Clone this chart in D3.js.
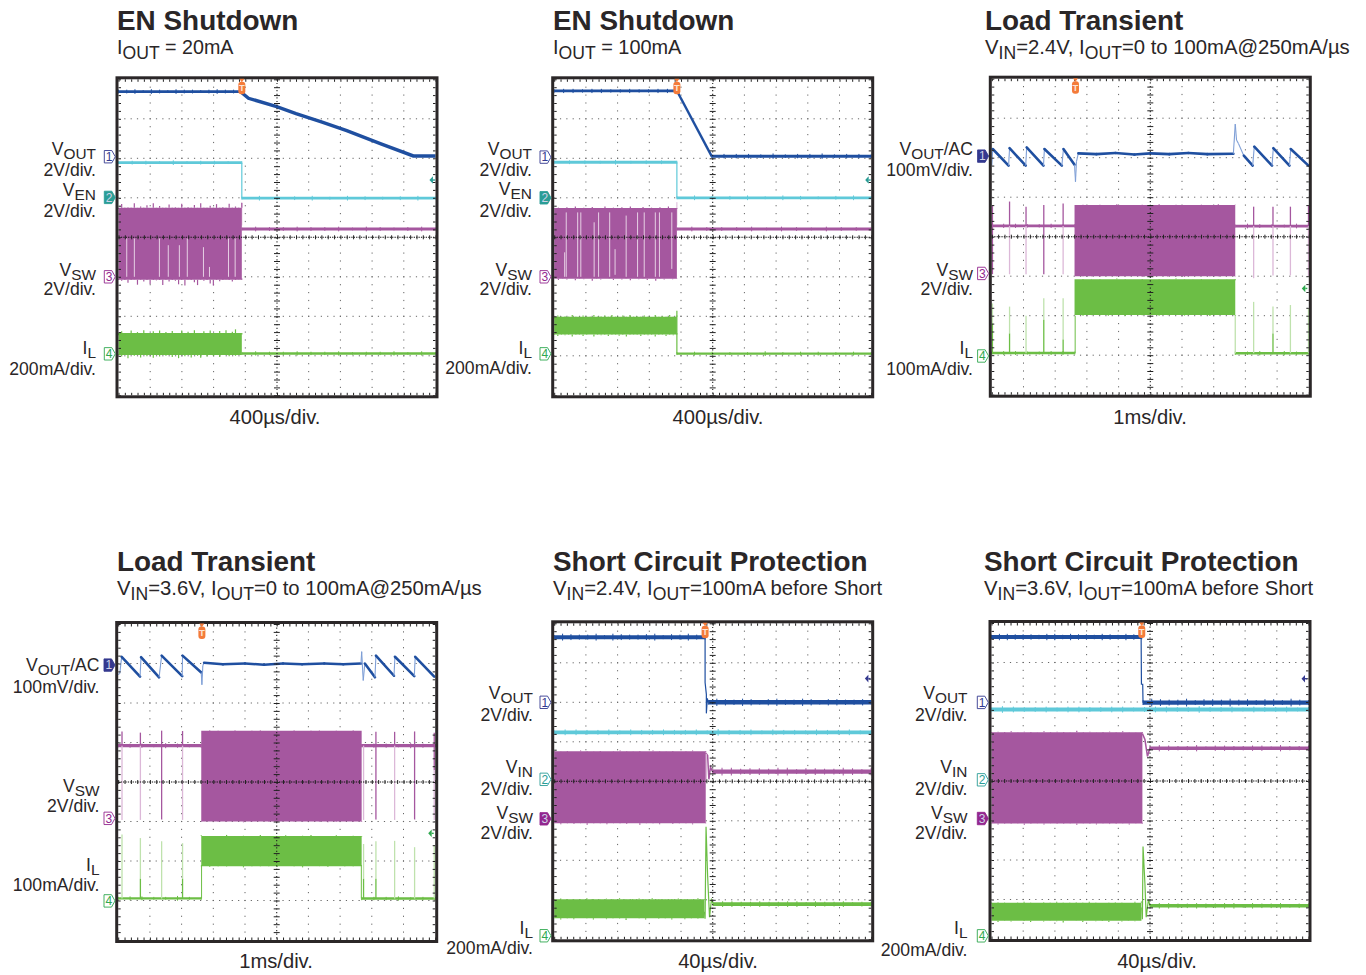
<!DOCTYPE html>
<html>
<head>
<meta charset="utf-8">
<script src="https://cdn.jsdelivr.net/npm/d3@7"></script>
<style>
  html, body { margin: 0; padding: 0; background: #fff; }
  svg { display: block; }
  text { font-family: "Liberation Sans", Arial, sans-serif; fill: #2a2627; }
</style>
</head>
<body>
<div class="box"></div>
<script>
// Text. "_" toggles subscript
const panelTitles = ['EN Shutdown', 'EN Shutdown', 'Load Transient', 'Load Transient', 'Short Circuit Protection', 'Short Circuit Protection'];
const panelSubtitles = [
  'I_OUT_ = 20mA',
  'I_OUT_ = 100mA',
  'V_IN_=2.4V, I_OUT_=0 to 100mA@250mA/µs',
  'V_IN_=3.6V, I_OUT_=0 to 100mA@250mA/µs',
  'V_IN_=2.4V, I_OUT_=100mA before Short',
  'V_IN_=3.6V, I_OUT_=100mA before Short'
];
const timeLabels = ['400µs/div.', '400µs/div.', '1ms/div.', '1ms/div.', '40µs/div.', '40µs/div.'];
const channelLabels = [
  ['V_OUT', '2V/div.', 'V_EN', '2V/div.', 'V_SW', '2V/div.', 'I_L', '200mA/div.'],
  ['V_OUT', '2V/div.', 'V_EN', '2V/div.', 'V_SW', '2V/div.', 'I_L', '200mA/div.'],
  ['V_OUT_/AC', '100mV/div.', 'V_SW', '2V/div.', 'I_L', '100mA/div.'],
  ['V_OUT_/AC', '100mV/div.', 'V_SW', '2V/div.', 'I_L', '100mA/div.'],
  ['V_OUT', '2V/div.', 'V_IN', '2V/div.', 'V_SW', '2V/div.', 'I_L', '200mA/div.'],
  ['V_OUT', '2V/div.', 'V_IN', '2V/div.', 'V_SW', '2V/div.', 'I_L', '200mA/div.']
];

// Values: time in divisions (0..10), level in divisions from centre (-4..4)
// Panel 1
const p1Trigger = 3.89;
const p1Vout = [3.68, 3.70, 3.67, 3.69, 3.71, 3.68, 3.69, 3.67, 3.70, 3.68, 3.69, 3.70, 3.67, 3.68, 3.70, 3.69];
const p1VoutFall = [[3.89, 3.66], [4.1, 3.52], [4.99, 3.31], [5.6, 3.13], [6.4, 2.92], [7.2, 2.70], [8.3, 2.36], [9.3, 2.06], [10, 2.06]];
const p1VenHigh = [1.89, 1.90, 1.88, 1.89, 1.91, 1.89, 1.88, 1.90, 1.89, 1.89];
const p1VenLow = [0.99, 1.01, 0.98, 1.00, 0.97, 0.99, 1.01, 0.98, 0.99, 1.00, 0.97, 0.99];
const p1SwTop = [0.72, 0.84, 0.70, 0.76, 0.73, 0.86, 0.71, 0.78, 0.72, 0.81, 0.75, 0.86, 0.71, 0.79, 0.73, 0.70, 0.83, 0.72, 0.76, 0.71, 0.85, 0.73, 0.77, 0.71, 0.82, 0.72, 0.86, 0.74, 0.70, 0.80, 0.73, 0.84, 0.71, 0.77, 0.72, 0.85, 0.74, 0.78, 0.72, 0.87];
const p1SwBot = [-1.05, -1.10, -1.04, -1.15, -1.05, -1.08, -1.20, -1.06, -1.12, -1.04, -1.18, -1.05, -1.09, -1.04, -1.21, -1.06, -1.12, -1.05, -1.10, -1.19, -1.05, -1.22, -1.07, -1.05, -1.14, -1.21, -1.06, -1.10, -1.05, -1.17, -1.22, -1.06, -1.11, -1.04, -1.08, -1.05, -1.12, -1.05, -1.07, -1.04];
const p1SwAfter = [0.21, 0.23, 0.20, 0.22, 0.19, 0.22, 0.20, 0.23, 0.21, 0.19, 0.22, 0.21, 0.20, 0.23, 0.21];
const p1Streak = [0.26, 0.5, 1.29, 1.57, 1.92, 2.17, 2.68, 2.87, 3.47, 3.68];
const p1StreakTop = [-0.03, -0.03, -0.03, -0.2, -0.2, -0.03, -0.25, -0.75, -0.03, -0.03];
const p1IlTop = [-2.48, -2.38, -2.50, -2.42, -2.36, -2.48, -2.40, -2.46, -2.35, -2.50, -2.44, -2.38, -2.47, -2.36, -2.45, -2.40, -2.49, -2.37, -2.43, -2.48, -2.36, -2.44, -2.39, -2.47, -2.35, -2.43, -2.49, -2.38, -2.45, -2.36, -2.42, -2.47, -2.37, -2.44, -2.35, -2.45, -2.39, -2.33, -2.42, -2.46];
const p1IlBot = [-2.96, -3.02, -2.98, -3.06, -2.97, -3.00, -2.96, -3.04, -2.98, -3.01, -2.96, -3.05, -2.97, -3.02, -2.98, -3.00, -2.96, -3.03, -2.98, -3.06, -2.97, -3.01, -2.96, -3.04, -2.97, -3.00, -3.05, -2.97, -3.02, -2.96, -3.00, -2.97, -3.03, -2.98, -2.96, -3.01, -2.97, -3.00, -2.96, -2.98];
const p1IlAfter = [-2.94, -2.92, -2.95, -2.93, -2.96, -2.93, -2.95, -2.92, -2.94, -2.95, -2.93, -2.96, -2.94, -2.92, -2.94];

// Panel 2
const p2Trigger = 3.87;
const p2Vout = [3.71, 3.69, 3.72, 3.70, 3.72, 3.69, 3.71, 3.70, 3.72, 3.70, 3.71, 3.69, 3.72, 3.70];
const p2VoutFall = [[3.87, 3.71], [4.97, 2.05]];
const p2VoutLow = [2.05, 2.04, 2.07, 2.04, 2.06, 2.08, 2.05, 2.07, 2.04, 2.08, 2.05, 2.07, 2.04, 2.06];
const p2VenHigh = [1.90, 1.91, 1.89, 1.90, 1.92, 1.90, 1.89, 1.91, 1.90];
const p2VenLow = [1.00, 1.02, 0.99, 1.01, 0.98, 1.00, 1.02, 0.99, 1.00, 1.01, 0.98, 1.00];
const p2SwTop = [0.73, 0.75, 0.72, 0.76, 0.73, 0.78, 0.72, 0.75, 0.73, 0.77, 0.72, 0.74, 0.78, 0.73, 0.75, 0.72, 0.76, 0.73, 0.78, 0.72, 0.74, 0.77, 0.73, 0.75, 0.72, 0.76, 0.73, 0.78, 0.74, 0.72];
const p2SwBot = [-1.05, -1.08, -1.04, -1.07, -1.05, -1.09, -1.04, -1.06, -1.05, -1.10, -1.04, -1.07, -1.05, -1.04, -1.08, -1.05, -1.07, -1.04, -1.09, -1.05, -1.06, -1.04, -1.08, -1.05, -1.10, -1.04, -1.07, -1.05, -1.06, -1.04];
const p2SwAfter = [0.21, 0.23, 0.20, 0.22, 0.20, 0.23, 0.21, 0.19, 0.22, 0.21, 0.23, 0.20, 0.22, 0.21];
const p2Streak = [0.33, 0.38, 0.74, 0.84, 1.26, 1.40, 1.75, 1.92, 2.27, 2.63, 2.84, 3.19, 3.32, 3.71];
const p2StreakTop = [-0.38, 0.63, 0.63, 0.63, 0.38, 0.63, 0.63, -0.3, 0.55, 0.63, 0.63, 0.63, 0.63, 0.63];
const p2StreakBot = [-1, -1, -1, -1, -1, -1, -1, -0.95, -1, -1, -1, -1, -1, -0.8];
const p2IlTop = [-2.06, -1.98, -2.08, -2.00, -2.05, -1.97, -2.09, -2.01, -1.98, -2.07, -2.02, -1.97, -2.08, -2.00, -1.98, -2.05, -1.97, -2.07, -2.01, -1.98, -2.06, -1.97, -2.08, -2.00, -2.04, -1.98, -2.07, -2.01, -1.97, -2.05, -1.99, -2.07, -1.97, -2.03, -1.98];
const p2IlBot = [-2.44, -2.50, -2.42, -2.48, -2.45, -2.51, -2.43, -2.47, -2.50, -2.42, -2.46, -2.51, -2.44, -2.48, -2.42, -2.50, -2.45, -2.43, -2.49, -2.44, -2.51, -2.42, -2.47, -2.45, -2.50, -2.43, -2.48, -2.44, -2.51, -2.42, -2.47, -2.50, -2.44, -2.48, -2.43];
const p2IlAfter = [-2.95, -2.93, -2.96, -2.94, -2.95, -2.92, -2.95, -2.93, -2.96, -2.94, -2.93, -2.95];

// Panel 3
const p3Trigger = 2.64;
const p3Vout = [[0, 1.8], [0.03, 2.22], [0.53, 1.80], [0.56, 2.24], [1.07, 1.80], [1.10, 2.26], [1.63, 1.80], [1.66, 2.22], [2.21, 1.80], [2.26, 2.22], [2.61, 1.82], [2.64, 1.39], [2.67, 1.9], [2.73, 2.11], [3.3, 2.09], [3.9, 2.12], [4.5, 2.08], [5, 2.11], [5.6, 2.09], [6.2, 2.12], [6.8, 2.09], [7.62, 2.10], [7.68, 2.85], [7.72, 2.45], [7.78, 2.36], [7.95, 2.05], [8.23, 1.80], [8.28, 2.28], [8.84, 1.80], [8.88, 2.24], [9.39, 1.80], [9.43, 2.22], [9.99, 1.80]];
const p3SwLeft = [0.28, 0.26, 0.29, 0.27, 0.28, 0.26, 0.28, 0.27];
const p3SwRight = [0.27, 0.29, 0.26, 0.28, 0.27, 0.25, 0.28];
const p3SwTop = [0.80, 0.81, 0.79, 0.81, 0.80, 0.82, 0.80, 0.79, 0.81, 0.80, 0.82, 0.80, 0.81, 0.79, 0.80, 0.81, 0.80, 0.82, 0.79, 0.81];
const p3SwBot = [-1.0, -1.01, -0.99, -1.02, -1.0, -0.99, -1.01, -1.0, -1.02, -0.99, -1.0, -1.01, -0.99, -1.02, -1.0, -1.0, -1.01, -0.99, -1.0, -1.01];
const p3Pulse = [0.02, 0.56, 1.08, 1.64, 2.25, 8.26, 8.87, 9.42, 9.99];
const p3SwPulseTop = [0.78, 0.89, 0.76, 0.80, 0.84, 0.76, 0.76, 0.76, 0.80];
const p3SwPulseMid = [-0.95, 0.27, 0.27, -0.95, 0.27, 0.27, 0.27, 0.27, 0.27];
const p3SwPulseBot = [-0.95, -0.95, -0.95, -0.95, -0.95, -1.05, -0.98, -0.98, -1.0];
const p3IlTop = [-1.08, -1.10, -1.07, -1.09, -1.08, -1.06, -1.09, -1.08, -1.10, -1.07, -1.09, -1.08, -1.06, -1.09, -1.07, -1.10, -1.08, -1.09, -1.07, -1.10];
const p3IlBot = [-1.98, -2.00, -1.97, -1.99, -2.0, -1.98, -2.01, -1.97, -1.99, -1.98, -2.0, -1.98, -1.97, -2.0, -1.98, -1.99, -2.01, -1.98, -1.97, -2.0];
const p3IlLeft = [-2.95, -2.93, -2.96, -2.94, -2.95, -2.93, -2.96, -2.94];
const p3IlRight = [-2.96, -2.94, -2.97, -2.95, -2.93, -2.96, -2.95];
const p3IlPulseTop = [-1.69, -1.77, -2.0, -1.56, -1.56, -1.65, -1.77, -1.73, -1.81];
const p3IlPulseMid = [-2.2, -2.45, -2.95, -2.1, -2.6, -2.95, -2.45, -2.95, -2.95];

// Panel 4
const p4Trigger = 2.64;
const p4Vout = [[0, 2.72], [0.05, 2.75], [0.11, 3.17], [0.69, 2.67], [0.72, 3.16], [1.29, 2.65], [1.37, 3.20], [2.02, 2.68], [2.03, 3.20], [2.62, 2.77], [2.64, 2.46], [2.67, 2.95], [2.71, 3.02], [3.3, 2.98], [4, 3.0], [4.6, 2.97], [5.2, 3.0], [5.8, 2.98], [6.5, 3.0], [7.1, 2.98], [7.66, 3.0], [7.68, 3.3], [7.73, 2.57], [7.78, 3.0], [8.1, 2.65], [8.13, 3.2], [8.70, 2.69], [8.73, 3.17], [9.34, 2.68], [9.37, 3.17], [9.97, 2.67]];
const p4SwLeft = [0.92, 0.93, 0.91, 0.92, 0.94, 0.91, 0.92, 0.93];
const p4SwRight = [0.92, 0.91, 0.93, 0.92, 0.94, 0.91, 0.92];
const p4SwTop = [1.30, 1.31, 1.29, 1.30, 1.31, 1.30, 1.29, 1.31, 1.30, 1.29, 1.30, 1.31, 1.30, 1.29, 1.31, 1.30, 1.29, 1.30, 1.31, 1.30];
const p4SwBot = [-0.99, -1.0, -1.01, -0.98, -1.0, -1.02, -0.99, -1.0, -1.01, -0.98, -1.0, -0.99, -1.01, -1.0, -0.98, -1.02, -0.99, -1.0, -1.01, -0.99];
const p4Pulse = [0.12, 0.70, 1.37, 2.03, 7.74, 8.13, 8.72, 9.35, 9.97];
const p4SwPulseTop = [1.28, 1.25, 1.30, 1.29, 0.95, 1.27, 1.27, 1.28, 1.25];
const p4SwPulseMid = [0.92, 0.92, -0.95, 0.92, 0.92, -0.95, 0.92, -0.95, 0.3];
const p4IlTop = [-1.35, -1.38, -1.37, -1.34, -1.39, -1.36, -1.38, -1.34, -1.37, -1.39, -1.35, -1.38, -1.36, -1.34, -1.38, -1.37, -1.35, -1.39, -1.36, -1.38];
const p4IlBot = [-2.12, -2.15, -2.11, -2.14, -2.13, -2.16, -2.12, -2.14, -2.11, -2.15, -2.13, -2.12, -2.16, -2.13, -2.11, -2.15, -2.13, -2.12, -2.14, -2.13];
const p4IlLeft = [-2.95, -2.93, -2.96, -2.94, -2.95, -2.92, -2.95, -2.94];
const p4IlRight = [-2.96, -2.94, -2.96, -2.93, -2.95, -2.96, -2.94];
const p4IlPulseTop = [-1.33, -1.42, -1.50, -1.55, -1.57, -1.50, -1.49, -1.65, -1.60];
const p4IlPulseMid = [-2.95, -2.45, -2.95, -2.45, -2.45, -2.45, -2.95, -2.95, -2.95];

// Panel 5
const p5Trigger = 4.76;
const p5Vout = [3.65, 3.68, 3.63, 3.66, 3.64, 3.68, 3.65, 3.62, 3.67, 3.64, 3.66, 3.63, 3.68, 3.65, 3.63, 3.66, 3.68, 3.64, 3.66];
const p5VoutFall = [[4.76, 3.65], [4.76, 2.5], [4.80, 2.2], [4.80, 1.72], [4.83, 2.1], [4.86, 2.0]];
const p5VoutLow = [2.0, 2.03, 1.98, 2.01, 1.97, 2.02, 2.0, 1.98, 2.03, 1.99, 2.01, 1.97, 2.02, 2.0, 1.98, 2.02, 1.99, 2.01, 1.98, 2.0];
const p5Ven = [1.24, 1.26, 1.22, 1.25, 1.23, 1.26, 1.24, 1.22, 1.25, 1.23, 1.26, 1.23, 1.25, 1.22, 1.24, 1.27, 1.23, 1.25, 1.22, 1.24, 1.26, 1.23, 1.25, 1.24, 1.22, 1.25, 1.23, 1.26, 1.24, 1.23];
const p5SwTop = [0.75, 0.77, 0.74, 0.76, 0.78, 0.75, 0.77, 0.74, 0.76, 0.75, 0.78, 0.75, 0.77, 0.74, 0.76, 0.78, 0.75, 0.77, 0.74, 0.76, 0.75, 0.78, 0.76, 0.74];
const p5SwBot = [-1.06, -1.09, -1.05, -1.08, -1.06, -1.10, -1.05, -1.07, -1.09, -1.06, -1.05, -1.08, -1.06, -1.10, -1.07, -1.05, -1.09, -1.06, -1.08, -1.05, -1.07, -1.09, -1.06, -1.05];
const p5SwDrop = [[4.78, 0.72], [4.84, 0.65], [4.88, 0.05], [4.93, 0.36], [5.0, 0.24]];
const p5SwAfter = [0.24, 0.28, 0.21, 0.26, 0.22, 0.27, 0.23, 0.28, 0.21, 0.25, 0.27, 0.22, 0.26, 0.23, 0.28, 0.22, 0.25, 0.21];
const p5IlTop = [-3.0, -2.97, -3.01, -2.98, -3.0, -2.96, -3.01, -2.98, -2.97, -3.0, -2.96, -2.99, -3.01, -2.97, -2.99, -2.96, -3.0, -2.98, -3.01, -2.97, -3.0, -2.98, -2.96, -3.0];
const p5IlBot = [-3.47, -3.50, -3.46, -3.49, -3.47, -3.45, -3.50, -3.47, -3.49, -3.46, -3.48, -3.51, -3.47, -3.46, -3.50, -3.47, -3.48, -3.45, -3.50, -3.47, -3.49, -3.46, -3.48, -3.47];
const p5IlSpike = [[4.74, -3.3], [4.76, -3.48], [4.79, -1.15], [4.84, -2.4], [4.9, -3.44], [4.96, -3.0], [5.02, -3.11]];
const p5IlAfter = [-3.11, -3.09, -3.13, -3.10, -3.12, -3.09, -3.12, -3.10, -3.13, -3.09, -3.11, -3.13, -3.10, -3.12, -3.09, -3.11, -3.12, -3.10];

// Panel 6
const p6Trigger = 4.74;
const p6Vout = [3.64, 3.67, 3.62, 3.66, 3.63, 3.66, 3.64, 3.67, 3.62, 3.65, 3.67, 3.63, 3.66, 3.64, 3.62, 3.66, 3.64, 3.67, 3.63, 3.65];
const p6VoutFall = [[4.72, 3.64], [4.73, 2.45], [4.77, 2.45], [4.78, 1.98]];
const p6VoutLow = [1.98, 2.02, 1.96, 2.0, 1.97, 2.02, 1.98, 2.01, 1.96, 2.0, 2.02, 1.97, 2.01, 1.98, 1.96, 2.01, 1.98, 2.02, 1.97, 1.99];
const p6Ven = [1.81, 1.84, 1.79, 1.82, 1.80, 1.83, 1.81, 1.79, 1.83, 1.80, 1.82, 1.79, 1.83, 1.81, 1.80, 1.83, 1.79, 1.82, 1.80, 1.78, 1.82, 1.80, 1.83, 1.81, 1.79, 1.82, 1.80, 1.83, 1.81, 1.80];
const p6SwTop = [1.22, 1.25, 1.21, 1.26, 1.23, 1.25, 1.21, 1.24, 1.26, 1.22, 1.25, 1.21, 1.24, 1.27, 1.22, 1.25, 1.23, 1.21, 1.25, 1.22, 1.26, 1.23, 1.24, 1.21];
const p6SwBot = [-1.07, -1.10, -1.06, -1.09, -1.07, -1.11, -1.06, -1.08, -1.10, -1.07, -1.06, -1.09, -1.07, -1.11, -1.08, -1.06, -1.10, -1.07, -1.09, -1.06, -1.08, -1.10, -1.07, -1.06];
const p6SwDrop = [[4.76, 1.2], [4.84, 1.05], [4.92, 0.62], [5.0, 0.85]];
const p6SwAfter = [0.83, 0.86, 0.81, 0.84, 0.82, 0.86, 0.83, 0.81, 0.85, 0.82, 0.84, 0.81, 0.85, 0.83, 0.86, 0.82, 0.84, 0.81];
const p6IlTop = [-3.10, -3.07, -3.11, -3.08, -3.10, -3.06, -3.11, -3.08, -3.07, -3.10, -3.06, -3.09, -3.11, -3.07, -3.09, -3.06, -3.10, -3.08, -3.11, -3.07, -3.10, -3.08, -3.06, -3.05];
const p6IlBot = [-3.54, -3.57, -3.53, -3.56, -3.54, -3.52, -3.57, -3.54, -3.56, -3.53, -3.55, -3.58, -3.54, -3.53, -3.57, -3.54, -3.55, -3.52, -3.57, -3.54, -3.56, -3.53, -3.55, -3.54];
const p6IlSpike = [[4.74, -3.2], [4.76, -3.5], [4.78, -1.66], [4.84, -2.6], [4.88, -3.45], [4.95, -3.0], [5.0, -3.16]];
const p6IlAfter = [-3.16, -3.14, -3.18, -3.15, -3.17, -3.14, -3.17, -3.15, -3.18, -3.14, -3.16, -3.18, -3.15, -3.17, -3.14, -3.16, -3.17, -3.15];

// Channel markers: level of the number box and whether it is filled
const markerNumbers = [[1, 2, 3, 4], [1, 2, 3, 4], [1, 3, 4], [1, 3, 4], [1, 2, 3, 4], [1, 2, 3, 4]];
const markerLevels = [[2.04, 1.01, -1, -2.95], [2.03, 1, -1, -2.95], [2.04, -0.93, -3.02], [2.96, -0.92, -3.01], [2, 0.05, -0.95, -3.91], [1.99, 0.03, -0.95, -3.92]];
const markerFilled = [[2], [2], [1], [1], [3], [3]];
// Reference arrows near the right edge: [time, level, channel]
const arrowPoints = [[9.92, 1.45, 2], [9.92, 1.45, 2], [9.89, -1.31, 4], [9.89, -1.3, 4], [9.91, 2.6, 1], [9.89, 2.59, 1]];

// ---- Layout ----
const width = 1366, height = 975;
const plotW = 317, plotH = 316;
const plotLeft = [118.5, 554.2, 991.8, 118.2, 554.2, 991.5];
const plotTop = [79.3, 79.3, 78.7, 624, 623.3, 623];
const titleX = [117, 553, 985, 117, 553, 984];
const titleY = [30, 30, 30, 571, 571, 571];
const subY = [54, 54, 54, 595, 595, 595];
const subSize = [19.7, 19.9, 20.3, 20.3, 20.3, 20.3];
const timeX = [275, 718, 1150, 276, 718, 1157];
const timeY = [424, 424, 424, 968, 968, 968];
const labelRight = [96, 532, 973, 99.5, 533, 967.5];
const labelY = [
  [155, 175.7, 196, 216.7, 276, 295, 354, 375],
  [155, 176, 195, 216.7, 276, 295, 354, 374],
  [155, 176, 276, 295, 354, 375],
  [670.7, 692.7, 791.7, 811.7, 871, 891],
  [699.3, 721, 772.7, 795, 819, 839, 934, 954],
  [699.3, 721, 772.7, 795, 819, 839, 934, 955.7]
];

const colors = { vout: '#1f4fa0', ven: '#5fc9d9', sw: '#a5579f', il: '#6cbe45', swLight: '#dcb8d8', ilLight: '#bfe2ad', trig: '#f47b3a', voutLight: '#7f9fd6' };
const markerColors = { 1: '#34398f', 2: '#2a9d96', 3: '#93278f', 4: '#2fa84f' };
const arrowColors = { 1: '#34398f', 2: '#2a9d96', 4: '#2fa84f' };

const svg = d3.select('.box')
              .append('svg')
              .attr('width', width)
              .attr('height', height)
              .attr('viewBox', `0 0 ${width} ${height}`);

// spreads a list of levels evenly over a time span
function rough(t0, t1, values) {
  const step = d3.scaleLinear().domain([0, values.length - 1]).range([t0, t1]);
  const out = values.map((v, i) => [step(i), v]);
  out.noisy = true;
  return out;
}

function richText(sel, str, x, y, size, smallSize, drop) {
  const t = sel.append('text').attr('x', x).attr('y', y).attr('font-size', size);
  str.split('_').forEach((part, i) => {
    if (part === '') return;
    const isSub = i % 2 === 1;
    t.append('tspan')
     .attr('font-size', isSub ? smallSize : size)
     .attr('dy', i === 0 ? 0 : (isSub ? drop : -drop))
     .text(part);
  });
  return t;
}

// Per panel marks
function tracesFor(i) {
  const lines = [], bands = [], pulses = [], streaks = [], saws = [];
  const vout = (pts, w) => lines.push({ pts, color: colors.vout, w: w || 2.8 });
  const ven = (pts, w) => lines.push({ pts, color: colors.ven, w: w || 2.8 });
  const sw = (pts, w) => lines.push({ pts, color: colors.sw, w: w || 2.8 });
  const il = (pts, w) => lines.push({ pts, color: colors.il, w: w || 2.4 });
  const thin = (pts, color, w) => lines.push({ pts, color, w });

  if (i === 0) {
    vout(rough(0, p1Trigger, p1Vout)); vout(p1VoutFall, 3.4);
    ven(rough(0, p1Trigger, p1VenHigh));
    thin([[p1Trigger, 1.89], [p1Trigger, 0.99]], colors.ven, 1.2);
    ven(rough(p1Trigger, 10, p1VenLow));
    sw(rough(p1Trigger, 10, p1SwAfter));
    thin([[p1Trigger, 0.89], [p1Trigger, 0.3]], colors.swLight, 1);
    bands.push({ t0: 0, t1: p1Trigger, top: p1SwTop, bot: p1SwBot, color: colors.sw });
    bands.push({ t0: 0, t1: p1Trigger, top: p1IlTop, bot: p1IlBot, color: colors.il });
    il(rough(p1Trigger, 10, p1IlAfter));
    p1Streak.forEach((t, k) => streaks.push({ t, top: p1StreakTop[k], bot: -1.0 }));
  }
  if (i === 1) {
    vout(rough(0, p2Trigger, p2Vout)); vout(p2VoutFall, 2.4);
    vout(rough(4.97, 10, p2VoutLow), 3);
    ven(rough(0, p2Trigger, p2VenHigh));
    thin([[p2Trigger, 1.9], [p2Trigger, 1.0]], colors.ven, 1.2);
    ven(rough(p2Trigger, 10, p2VenLow));
    sw(rough(p2Trigger, 10, p2SwAfter));
    thin([[p2Trigger, 0.89], [p2Trigger, 0.3]], colors.swLight, 1);
    bands.push({ t0: 0, t1: p2Trigger, top: p2SwTop, bot: p2SwBot, color: colors.sw });
    bands.push({ t0: 0, t1: p2Trigger, top: p2IlTop, bot: p2IlBot, color: colors.il });
    thin([[p2Trigger, -1.86], [p2Trigger, -2.95]], colors.il, 1.2);
    il(rough(p2Trigger, 10, p2IlAfter));
    p2Streak.forEach((t, k) => streaks.push({ t, top: p2StreakTop[k], bot: p2StreakBot[k] }));
  }
  if (i === 2) {
    saws.push(p3Vout);
    sw(rough(0, 2.62, p3SwLeft)); sw(rough(7.68, 10, p3SwRight));
    bands.push({ t0: 2.61, t1: 7.68, top: p3SwTop, bot: p3SwBot, color: colors.sw });
    bands.push({ t0: 2.61, t1: 7.68, top: p3IlTop, bot: p3IlBot, color: colors.il });
    il(rough(0, 2.62, p3IlLeft)); il(rough(7.68, 10, p3IlRight));
    thin([[2.63, -2.0], [2.63, -2.95]], colors.il, 1);
    thin([[7.68, -2.0], [7.68, -2.95]], colors.ilLight, 1.3);
    p3Pulse.forEach((t, k) => {
      pulses.push({ t, a: p3SwPulseTop[k], b: p3SwPulseMid[k], c: p3SwPulseBot[k], up: colors.sw, low: colors.swLight });
      pulses.push({ t, a: p3IlPulseTop[k], b: p3IlPulseMid[k], c: -2.95, up: colors.ilLight, low: colors.il });
    });
  }
  if (i === 3) {
    saws.push(p4Vout);
    sw(rough(0, 2.62, p4SwLeft), 3.2); sw(rough(7.68, 10, p4SwRight), 3.2);
    bands.push({ t0: 2.62, t1: 7.68, top: p4SwTop, bot: p4SwBot, color: colors.sw });
    bands.push({ t0: 2.62, t1: 7.68, top: p4IlTop, bot: p4IlBot, color: colors.il });
    il(rough(0, 2.62, p4IlLeft)); il(rough(7.68, 10, p4IlRight));
    thin([[2.63, -2.1], [2.63, -2.95]], colors.il, 1);
    thin([[7.67, -2.1], [7.67, -2.95]], colors.il, 1);
    p4Pulse.forEach((t, k) => {
      pulses.push({ t, a: p4SwPulseTop[k], b: p4SwPulseMid[k], c: -0.96, up: colors.sw, low: colors.swLight });
      pulses.push({ t, a: p4IlPulseTop[k], b: p4IlPulseMid[k], c: -2.95, up: colors.ilLight, low: colors.il });
    });
  }
  if (i === 4) {
    vout(rough(0, p5Trigger, p5Vout), 4);
    vout(p5VoutFall, 1.2);
    vout(rough(4.86, 10, p5VoutLow), 4.4);
    ven(rough(0, 10, p5Ven), 3.8);
    bands.push({ t0: 0, t1: 4.78, top: p5SwTop, bot: p5SwBot, color: colors.sw });
    thin(p5SwDrop, colors.sw, 1.5);
    sw(rough(5.0, 10, p5SwAfter), 4.4);
    thin([[4.8, 0.7], [4.8, 0.04]], colors.swLight, 1.2);
    bands.push({ t0: 0, t1: 4.74, top: p5IlTop, bot: p5IlBot, color: colors.il });
    thin(p5IlSpike, colors.il, 1.2);
    il(rough(5.02, 10, p5IlAfter), 3.8);
  }
  if (i === 5) {
    vout(rough(0, p6Trigger, p6Vout), 4);
    vout(p6VoutFall, 1.2);
    vout(rough(4.78, 10, p6VoutLow), 4.4);
    ven(rough(0, 10, p6Ven), 3.8);
    bands.push({ t0: 0, t1: 4.76, top: p6SwTop, bot: p6SwBot, color: colors.sw });
    thin(p6SwDrop, colors.sw, 1.5);
    sw(rough(5.0, 10, p6SwAfter), 3.4);
    bands.push({ t0: 0, t1: 4.73, top: p6IlTop, bot: p6IlBot, color: colors.il });
    thin(p6IlSpike, colors.il, 1.2);
    il(rough(5.0, 10, p6IlAfter), 3.6);
  }
  return { lines, bands, pulses, streaks, saws };
}

const divTicksX = d3.range(0, 11);
const divTicksY = d3.range(-4, 5);
const subTicksX = d3.range(0, 50.5).map(d => d / 5);
const subTicksY = d3.range(-20, 20.5).map(d => d / 5);
const triggers = [p1Trigger, p2Trigger, p3Trigger, p4Trigger, p5Trigger, p6Trigger];

panelTitles.forEach((title, i) => {
  const g = svg.append('g');
  const x = d3.scaleLinear().domain([0, 10]).range([plotLeft[i], plotLeft[i] + plotW]);
  const y = d3.scaleLinear().domain([4, -4]).range([plotTop[i], plotTop[i] + plotH]);
  const divW = x(1) - x(0), divH = y(0) - y(1);

  // texts
  g.append('text').attr('x', titleX[i]).attr('y', titleY[i])
   .attr('font-size', 27.9).attr('font-weight', 700).text(title);
  richText(g, panelSubtitles[i], titleX[i], subY[i], subSize[i], 17.6, 5);
  g.append('text').attr('x', timeX[i]).attr('y', timeY[i])
   .attr('font-size', 20.2).attr('text-anchor', 'middle').text(timeLabels[i]);
  channelLabels[i].forEach((lab, k) => {
    richText(g, lab, labelRight[i], labelY[i][k], 17.6, 15.4, 3.8).attr('text-anchor', 'end');
  });

  // dotted grid
  const gridG = g.append('g');
  divTicksY.filter(v => v !== 0 && Math.abs(v) !== 4).forEach(v => {
    gridG.append('line').attr('x1', x(0)).attr('x2', x(10)).attr('y1', y(v)).attr('y2', y(v))
         .attr('stroke', '#666').attr('stroke-width', 1)
         .attr('stroke-dasharray', `1.2 ${divW / 5 - 1.2}`).attr('stroke-dashoffset', 0.6);
  });
  divTicksX.filter(t => t !== 5 && t !== 0 && t !== 10).forEach(t => {
    gridG.append('line').attr('y1', y(4)).attr('y2', y(-4)).attr('x1', x(t)).attr('x2', x(t))
         .attr('stroke', '#666').attr('stroke-width', 1)
         .attr('stroke-dasharray', `1.2 ${divH / 5 - 1.2}`).attr('stroke-dashoffset', 0.6);
  });

  const marks = tracesFor(i);
  const lineGen = d3.line().x(d => x(d[0])).y(d => y(d[1]));
  const areaGen = d3.area().x(d => x(d[0])).y0(d => y(d[2])).y1(d => y(d[1]));
  const tick = (t, y1, y2, color, w) => g.append('line')
    .attr('x1', x(t)).attr('x2', x(t)).attr('y1', y1).attr('y2', y2)
    .attr('stroke', color).attr('stroke-width', w);

  marks.lines.forEach(l => {
    if (l.pts.noisy) {
      // flat trace with the read levels as small hairs on it
      const mid = d3.median(l.pts, d => d[1]);
      const last = l.pts[l.pts.length - 1][0];
      g.append('line').attr('x1', x(l.pts[0][0])).attr('x2', x(last))
       .attr('y1', y(mid)).attr('y2', y(mid)).attr('stroke', l.color).attr('stroke-width', l.w);
      l.pts.forEach(p => {
        const dev = l.w / 2 + Math.abs(y(p[1]) - y(mid)) * 1.2;
        tick(p[0], y(mid) - dev, y(mid) + dev, l.color, 1);
      });
    } else {
      g.append('path').attr('d', lineGen(l.pts)).attr('fill', 'none')
       .attr('stroke', l.color).attr('stroke-width', l.w);
    }
  });
  // sawtooth: slow parts heavy, fast edges thin and pale
  marks.saws.forEach(pts => {
    d3.pairs(pts).forEach(pair => {
      const slow = pair[1][0] - pair[0][0] >= 0.2;
      g.append('path').attr('d', lineGen(pair)).attr('fill', 'none')
       .attr('stroke', slow ? colors.vout : colors.voutLight)
       .attr('stroke-width', slow ? 2.6 : 1.1)
       .attr('stroke-linecap', slow ? 'round' : 'butt');
    });
  });
  marks.bands.forEach(b => {
    const topBase = d3.median(b.top), botBase = d3.median(b.bot);
    g.append('path').attr('d', areaGen([[b.t0, topBase, botBase], [b.t1, topBase, botBase]]))
     .attr('fill', b.color);
    const tops = rough(b.t0, b.t1, b.top), bots = rough(b.t0, b.t1, b.bot);
    tops.forEach(p => tick(p[0], y(p[1]), y(topBase), b.color, 1.2));
    bots.forEach(p => tick(p[0], y(botBase), y(p[1]), b.color, 1.2));
  });
  marks.pulses.forEach(p => {
    tick(p.t, y(p.a), y(p.b), p.up, 1.3);
    tick(p.t, y(p.b), y(p.c), p.low, 1.3);
  });
  marks.streaks.forEach(s => tick(s.t, y(s.top), y(s.bot), '#e6cfe4', 1));

  // centre cross on top of traces
  g.append('line').attr('x1', x(0)).attr('x2', x(10)).attr('y1', y(0)).attr('y2', y(0))
   .attr('stroke', '#111').attr('stroke-width', 1.1).attr('stroke-dasharray', '1.3 1.1');
  g.append('line').attr('y1', y(4)).attr('y2', y(-4)).attr('x1', x(5)).attr('x2', x(5))
   .attr('stroke', '#222').attr('stroke-width', 1.1).attr('stroke-dasharray', '1.2 2.4');

  const axisPart = (axis, tx, ty) => {
    const a = g.append('g').attr('transform', `translate(${tx},${ty})`).call(axis);
    a.select('.domain').remove();
    a.selectAll('line').attr('stroke', '#222').attr('stroke-width', 1);
  };
  // centre ticks
  axisPart(d3.axisBottom(x).tickValues(subTicksX).tickSize(4).tickFormat(''), 0, y(0) - 2);
  axisPart(d3.axisRight(y).tickValues(subTicksY).tickSize(6).tickFormat(''), x(5) - 3, 0);
  // frame ticks
  axisPart(d3.axisBottom(x).tickValues(subTicksX).tickSize(2.5).tickFormat(''), 0, y(4));
  axisPart(d3.axisTop(x).tickValues(subTicksX).tickSize(2.5).tickFormat(''), 0, y(-4));
  axisPart(d3.axisRight(y).tickValues(subTicksY).tickSize(2.5).tickFormat(''), x(0), 0);
  axisPart(d3.axisLeft(y).tickValues(subTicksY).tickSize(2.5).tickFormat(''), x(10), 0);

  // frame
  g.append('rect').attr('x', x(0) - 1.5).attr('y', y(4) - 1.5)
   .attr('width', plotW + 3).attr('height', plotH + 3)
   .attr('fill', 'none').attr('stroke', '#2b2728').attr('stroke-width', 3);

  // trigger flag
  const tx = x(triggers[i]), ty = plotTop[i] + 8.5;
  g.append('path').attr('d', `M${tx - 2.5},${plotTop[i] - 0.5}L${tx + 2.5},${plotTop[i] - 0.5}L${tx},${plotTop[i] + 3}Z`).attr('fill', colors.trig);
  g.append('rect').attr('x', tx - 3.5).attr('y', ty - 6).attr('width', 7).attr('height', 12.5)
   .attr('rx', 3).attr('fill', colors.trig);
  g.append('text').attr('x', tx).attr('y', ty + 3.6).attr('text-anchor', 'middle')
   .attr('font-size', 9.5).attr('font-weight', 700).style('fill', '#fbe3d4').text('T');

  // channel markers
  markerNumbers[i].forEach((n, k) => {
    const my = y(markerLevels[i][k]);
    const filled = markerFilled[i].includes(n);
    const c = markerColors[n];
    const r = plotLeft[i] - 3.2;
    g.append('path').attr('d', `M${r - 11},${my - 6.2}L${r - 3.5},${my - 6.2}L${r},${my}L${r - 3.5},${my + 6.2}L${r - 11},${my + 6.2}Z`)
     .attr('fill', filled ? c : '#fff').attr('stroke', c).attr('stroke-width', 0.9);
    g.append('text').attr('x', r - 6.2).attr('y', my + 4.3).attr('text-anchor', 'middle')
     .attr('font-size', 12).style('fill', filled ? '#cfd3e8' : c).text(n);
  });

  // right edge arrow
  const ap = arrowPoints[i], ax = x(ap[0]), ay = y(ap[1]);
  g.append('path').attr('d', `M${ax - 3.5},${ay}L${ax},${ay - 3.8}L${ax},${ay + 3.8}Z`).attr('fill', arrowColors[ap[2]]);
  g.append('line').attr('x1', ax).attr('x2', ax + 2).attr('y1', ay).attr('y2', ay)
   .attr('stroke', arrowColors[ap[2]]).attr('stroke-width', 1.4);
});
</script>
</body>
</html>
